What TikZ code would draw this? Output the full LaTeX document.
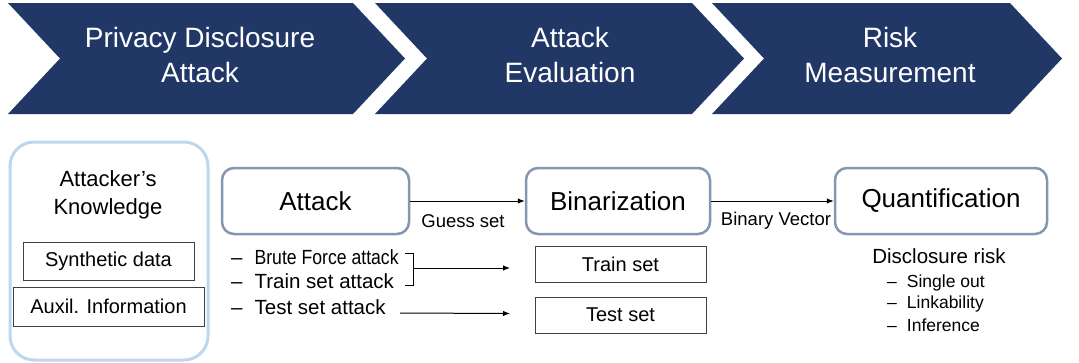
\documentclass[tikz,border=0pt]{standalone}
\usepackage{fontspec}
\setmainfont{Liberation Sans}
\newfontfamily\condfont[FakeStretch=0.86]{Liberation Sans}
\usetikzlibrary{arrows.meta}
\definecolor{navy}{RGB}{33,56,103}
\definecolor{slateb}{RGB}{132,151,176}
\definecolor{lightb}{RGB}{189,215,238}
\definecolor{boxgray}{RGB}{64,64,64}
\newcommand{\fsz}[2]{\fontsize{#1pt}{#2pt}\selectfont}
\begin{document}
\begin{tikzpicture}[x=1pt,y=-1pt,
  chev/.style={fill=navy},
  chevtext/.style={text=white,align=center,font=\fsz{28}{35}},
  stagebox/.style={draw=slateb,line width=2.5pt,rounded corners=12pt,fill=white,font=\fsz{26}{30}},
  plainbox/.style={draw=boxgray,line width=0.9pt,font=\fsz{20}{24}},
  arr/.style={line width=1pt,-{Latex[length=7pt,width=5.5pt]}},
  lbl/.style={font=\fsz{18.5}{22},inner sep=0pt},
  bullet/.style={anchor=west,inner sep=0pt,font=\fsz{20.5}{24}},
  rbullet/.style={anchor=west,inner sep=0pt,font=\fsz{17.5}{21}}]
\useasboundingbox (0,0) rectangle (1079,362);
% chevrons
\fill[chev] (8,3) -- (353,3) -- (405,58.5) -- (353,114) -- (8,114) -- (60,58.5) -- cycle;
\fill[chev] (375,3) -- (692,3) -- (744,58.5) -- (692,114) -- (375,114) -- (427,58.5) -- cycle;
\fill[chev] (712,3) -- (1010,3) -- (1062,58.5) -- (1010,114) -- (712,114) -- (764,58.5) -- cycle;
\node[chevtext] (c1) at (200,55) {Privacy Disclosure\\Attack};
\node[chevtext] (c2) at (570,55) {Attack\\Evaluation};
\node[chevtext] (c3) at (890,55) {Risk\\Measurement};
% knowledge
\node[draw=lightb,line width=3pt,rounded corners=24pt,minimum width=198pt,minimum height=218pt] (kb) at (109,251) {};
\node[align=center,font=\fsz{22}{28}] (kt) at (108,195) {Attacker’s\\Knowledge};
\node[plainbox,minimum width=171pt,minimum height=38pt] (syn) at (108.5,261) {Synthetic data};
\node[plainbox,minimum width=191pt,minimum height=39pt] (aux) at (108.5,306.5) {Auxil. Information};
% stages
\node[stagebox,minimum width=187pt,minimum height=66pt] (att) at (315.5,201) {Attack};
\node[stagebox,minimum width=184pt,minimum height=66pt] (bin) at (618,201) {Binarization};
\node[stagebox,minimum width=212pt,minimum height=66pt] (qua) at (941,201) {Quantification};
\draw[arr] (att.east) -- (bin.west);
\draw[arr] (bin.east) -- (qua.west);
\node[lbl] (gs) at (463,221) {Guess set};
\node[lbl] (bv) at (776,221) {Binary Vector};
% attack list
\node[bullet] (bf) at (231,257) {–\hspace{12pt}{\condfont Brute Force attack}};
\node[bullet] (tr) at (231,281) {–\hspace{12pt}Train set attack};
\node[bullet] (te) at (231,307) {–\hspace{12pt}Test set attack};
\coordinate (bra) at (405,253);
\coordinate (brb) at (413,253);
\coordinate (brc) at (413,285);
\coordinate (brd) at (405,285);
\coordinate (brm) at (413,268);
\coordinate (tre) at (510,268);
\coordinate (tes) at (400,313);
\coordinate (tee) at (510,313.5);
\draw[line width=0.9pt] (bra) -- (brb) -- (brc) -- (brd);
\draw[arr] (brm) -- (tre);
\draw[arr] (tes) -- (tee);
\node[plainbox,minimum width=171pt,minimum height=36pt] (trs) at (620.5,264) {Train set};
\node[plainbox,minimum width=171pt,minimum height=36pt] (tss) at (620.5,315) {Test set};
% risk
\node[font=\fsz{20.5}{24}] (dr) at (939,256) {Disclosure risk};
\node[rbullet] (so) at (887,283) {–\hspace{10pt}Single out};
\node[rbullet] (lk) at (887,304) {–\hspace{10pt}Linkability};
\node[rbullet] (inf) at (887,325) {–\hspace{10pt}Inference};
\end{tikzpicture}
\end{document}
